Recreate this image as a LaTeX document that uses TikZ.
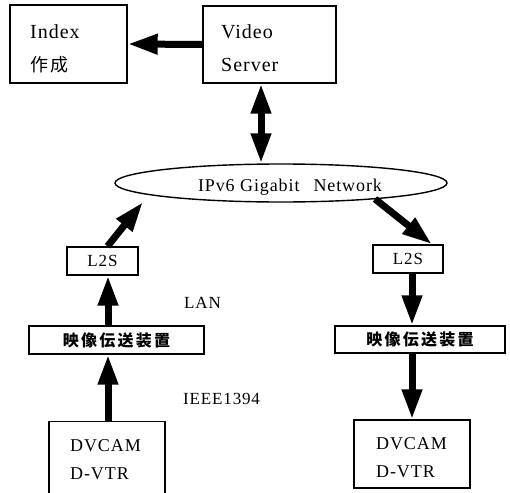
\documentclass[tikz,border=0pt]{standalone}
\usepackage{fontspec}
\setmainfont{Liberation Serif}
\newfontfamily\lat[LetterSpace=5]{Liberation Serif}
\newfontfamily\cjk[LetterSpace=14]{Noto Sans CJK JP}
\usetikzlibrary{arrows.meta,shapes.geometric}
\begin{document}
\begin{tikzpicture}[x=1pt,y=-1pt,
  box/.style={draw,line width=1.4pt,rectangle,inner sep=0pt},
  big/.style={font=\lat\fontsize{20}{24}\selectfont,inner sep=0pt,anchor=base west},
  mid/.style={font=\lat\fontsize{18}{22}\selectfont,inner sep=0pt,anchor=base west},
  lbl/.style={font=\lat\fontsize{17}{20}\selectfont,inner sep=0pt},
  fat/.style={line width=7pt,-{Triangle[length=30pt,width=19pt]}},
  fatboth/.style={line width=7pt,{Triangle[length=30pt,width=19pt]}-{Triangle[length=30pt,width=19pt]}}]
\useasboundingbox (0,0) rectangle (510,492);
% boxes
\node[box,minimum width=117pt,minimum height=78pt] (idx) at (68.5,44) {};
\node[big] (idxA) at (30,39) {Index};
\node[big,font=\cjk\fontsize{18}{22}\selectfont] (idxB) at (30,72) {作成};
\node[box,minimum width=133pt,minimum height=77pt] (vs) at (269.5,44.5) {};
\node[big] (vsA) at (221,39) {Video};
\node[big] (vsB) at (221,72) {Server};
\node[draw,line width=1.4pt,ellipse,minimum width=332pt,minimum height=38pt,inner sep=0pt] (net) at (281,183) {};
\node[lbl,font=\lat\fontsize{18}{20}\selectfont] (nettxt) at (290,187) {IPv6 Gigabit\hspace{14pt}Network};
\node[box,minimum width=71pt,minimum height=28pt,font=\lat\fontsize{17}{20}\selectfont] (l2sL) at (102.5,261) {L2S};
\node[box,minimum width=70pt,minimum height=28pt,font=\lat\fontsize{17}{20}\selectfont] (l2sR) at (408,259) {L2S};
\node[box,minimum width=175pt,minimum height=28pt,font=\cjk\fontsize{16}{18}\selectfont\bfseries] (vtL) at (116.5,340) {映像伝送装置};
\node[box,minimum width=170pt,minimum height=27pt,font=\cjk\fontsize{16}{18}\selectfont\bfseries] (vtR) at (420,339.5) {映像伝送装置};
\node[box,minimum width=116pt,minimum height=80pt,anchor=north] (dvL) at (107,421) {};
\node[mid] (dvLA) at (70,451) {DVCAM};
\node[mid] (dvLB) at (70,479) {D-VTR};
\node[box,minimum width=116pt,minimum height=68pt] (dvR) at (412,454) {};
\node[mid] (dvRA) at (376,449) {DVCAM};
\node[mid] (dvRB) at (376,477) {D-VTR};
% labels
\node[lbl,anchor=base west] (lan) at (184,308) {LAN};
\node[lbl,anchor=base west] (ieee) at (183,404) {IEEE1394};
% arrows
\draw[fat] (vs.west) -- (idx.east);
\draw[fatboth] (vs.south -| 261,0) -- (net.north -| 261,0);
\coordinate (nL) at (143,202);
\coordinate (nR) at (375,199);
\draw[fat] ([xshift=5pt]l2sL.north) -- (nL);
\draw[fat] (nR) -- ([xshift=24pt]l2sR.north);
\draw[fat] (vtL.north -| 108,0) -- (l2sL.south -| 108,0);
\draw[fat] (dvL.north -| 108,0) -- (vtL.south -| 108,0);
\draw[fat] (l2sR.south -| 412,0) -- (vtR.north -| 412,0);
\draw[fat] (vtR.south -| 412,0) -- (dvR.north -| 412,0);
\end{tikzpicture}
\end{document}
